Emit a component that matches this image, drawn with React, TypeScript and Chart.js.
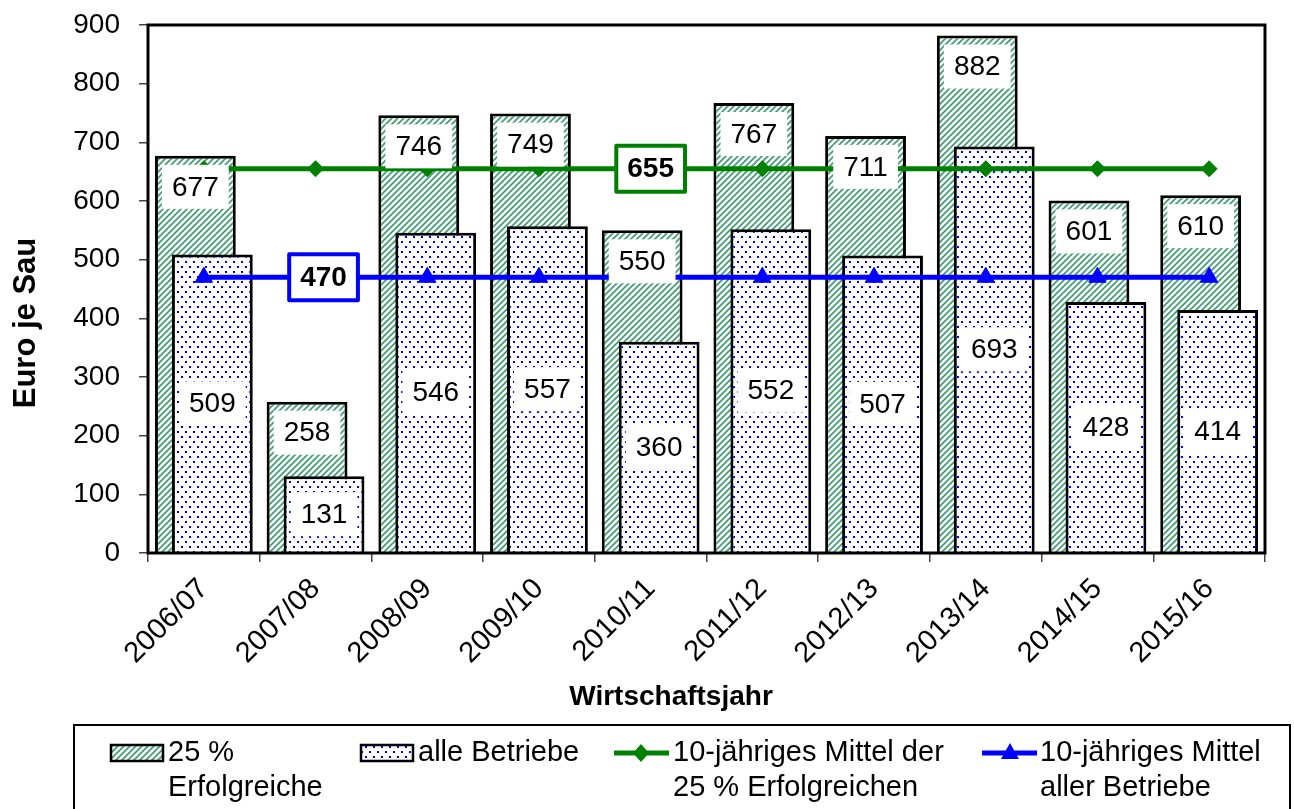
import React, { useEffect, useRef } from 'react';
import { Chart, registerables } from 'chart.js';

Chart.register(...registerables);

const categories = ['2006/07', '2007/08', '2008/09', '2009/10', '2010/11', '2011/12', '2012/13', '2013/14', '2014/15', '2015/16'];
const top25 = [677, 258, 746, 749, 550, 767, 711, 882, 601, 610];
const allFarms = [509, 131, 546, 557, 360, 552, 507, 693, 428, 414];
const avgTop25 = [655, 655, 655, 655, 655, 655, 655, 655, 655, 655];
const avgAll = [470, 470, 470, 470, 470, 470, 470, 470, 470, 470];
const yTicks = [0, 100, 200, 300, 400, 500, 600, 700, 800, 900];
const avgTop25LabelIndex = 4;
const avgAllLabelIndex = 1;
const seriesNames = [
  ['25 %', 'Erfolgreiche'],
  ['alle Betriebe'],
  ['10-jähriges Mittel der', '25 % Erfolgreichen'],
  ['10-jähriges Mittel', 'aller Betriebe'],
];
const xTitle = 'Wirtschaftsjahr';
const yTitle = 'Euro je Sau';

const FONT = '"Liberation Sans", Arial, Helvetica, sans-serif';
const GREEN = '#008000';
const BLUE = '#0000ff';
const HATCH = '#3a9c6c';

function makeHatch(): CanvasPattern | string {
  const c = document.createElement('canvas');
  c.width = 6;
  c.height = 6;
  const g = c.getContext('2d');
  if (!g) return '#cfe8d8';
  g.fillStyle = '#ffffff';
  g.fillRect(0, 0, 6, 6);
  g.strokeStyle = HATCH;
  g.lineWidth = 1.6;
  g.beginPath();
  g.moveTo(-1, 7);
  g.lineTo(7, -1);
  g.moveTo(5, 7);
  g.lineTo(7, 5);
  g.moveTo(-1, 1);
  g.lineTo(1, -1);
  g.stroke();
  return g.createPattern(c, 'repeat') || '#cfe8d8';
}

function makeDots(): CanvasPattern | string {
  const c = document.createElement('canvas');
  c.width = 8;
  c.height = 10;
  const g = c.getContext('2d');
  if (!g) return '#d8d8ff';
  g.fillStyle = '#ffffff';
  g.fillRect(0, 0, 8, 10);
  g.fillStyle = BLUE;
  g.fillRect(1, 1, 2, 2);
  g.fillRect(5, 6, 2, 2);
  return g.createPattern(c, 'repeat') || '#d8d8ff';
}

function labelBox(ctx: CanvasRenderingContext2D, text: string, cx: number, cy: number, bold: boolean, border?: string) {
  ctx.save();
  ctx.font = `${bold ? 'bold ' : ''}28px ${FONT}`;
  const tw = ctx.measureText(text).width;
  const w = tw + (border ? 22 : 20);
  const h = border ? 46 : 44;
  ctx.fillStyle = '#ffffff';
  ctx.fillRect(cx - w / 2, cy - h / 2, w, h);
  if (border) {
    ctx.strokeStyle = border;
    ctx.lineWidth = 4;
    ctx.lineJoin = 'round';
    ctx.strokeRect(cx - w / 2, cy - h / 2, w, h);
  }
  ctx.fillStyle = '#000000';
  ctx.textAlign = 'center';
  ctx.textBaseline = 'middle';
  ctx.fillText(text, cx, cy + 1);
  ctx.restore();
}

export default function App() {
  const ref = useRef<HTMLCanvasElement>(null);

  useEffect(() => {
    document.body.style.margin = '0';
    document.body.style.overflow = 'hidden';
    const canvas = ref.current;
    if (!canvas) return;
    const hatch = makeHatch();
    const dots = makeDots();

    const drawPlugin = {
      id: 'customDraw',
      beforeDatasetsDraw(chart: any) {
        const ctx: CanvasRenderingContext2D = chart.ctx;
        const area = chart.chartArea;
        chart.getDatasetMeta(0).controller.draw();
        chart.getDatasetMeta(1).controller.draw();
        ctx.save();
        ctx.strokeStyle = '#000';
        ctx.lineWidth = 3;
        ctx.strokeRect(area.left, area.top, area.right - area.left, area.bottom - area.top);
        ctx.restore();
        chart.getDatasetMeta(2).controller.draw();
        chart.getDatasetMeta(3).controller.draw();
        const m0 = chart.getDatasetMeta(0);
        const m1 = chart.getDatasetMeta(1);
        m0.data.forEach((el: any, i: number) => {
          labelBox(ctx, String(top25[i]), el.x, el.y + 31, false);
        });
        m1.data.forEach((el: any, i: number) => {
          labelBox(ctx, String(allFarms[i]), el.x, (el.y + el.base) / 2, false);
        });
        const p2 = chart.getDatasetMeta(2).data[avgTop25LabelIndex];
        labelBox(ctx, String(avgTop25[avgTop25LabelIndex]), p2.x, p2.y, true, GREEN);
        const p3 = chart.getDatasetMeta(3).data[avgAllLabelIndex];
        labelBox(ctx, String(avgAll[avgAllLabelIndex]), p3.x + 8, p3.y, true, BLUE);
        return false;
      },
      afterDraw(chart: any) {
        const ctx: CanvasRenderingContext2D = chart.ctx;
        ctx.save();
        ctx.fillStyle = '#000';
        ctx.textAlign = 'center';
        ctx.textBaseline = 'middle';
        ctx.font = `bold 28px ${FONT}`;
        ctx.fillText(xTitle, 671, 697);
        ctx.save();
        ctx.translate(26, 323);
        ctx.rotate(-Math.PI / 2);
        ctx.font = `bold 31px ${FONT}`;
        ctx.fillText(yTitle, 0, 0);
        ctx.restore();

        ctx.strokeStyle = '#000';
        ctx.lineWidth = 2;
        ctx.strokeRect(74, 725, 1216, 100);

        const ly = 753;
        const lh = 35;
        ctx.font = `29px ${FONT}`;
        ctx.textAlign = 'left';
        ctx.textBaseline = 'middle';

        ctx.fillStyle = hatch as any;
        ctx.fillRect(111, 745, 52, 16);
        ctx.lineWidth = 2.5;
        ctx.strokeRect(111, 745, 52, 16);
        ctx.fillStyle = dots as any;
        ctx.fillRect(361, 745, 52, 16);
        ctx.strokeRect(361, 745, 52, 16);

        ctx.strokeStyle = GREEN;
        ctx.lineWidth = 5;
        ctx.beginPath();
        ctx.moveTo(614, ly);
        ctx.lineTo(669, ly);
        ctx.stroke();
        ctx.fillStyle = GREEN;
        ctx.beginPath();
        ctx.moveTo(641, ly - 9);
        ctx.lineTo(649, ly);
        ctx.lineTo(641, ly + 9);
        ctx.lineTo(633, ly);
        ctx.closePath();
        ctx.fill();

        ctx.strokeStyle = BLUE;
        ctx.beginPath();
        ctx.moveTo(982, ly);
        ctx.lineTo(1037, ly);
        ctx.stroke();
        ctx.fillStyle = BLUE;
        ctx.beginPath();
        ctx.moveTo(1010, ly - 10);
        ctx.lineTo(1019, ly + 6);
        ctx.lineTo(1001, ly + 6);
        ctx.closePath();
        ctx.fill();

        ctx.fillStyle = '#000';
        const textX = [168, 418, 673, 1040];
        seriesNames.forEach((lines, i) => {
          lines.forEach((t, j) => ctx.fillText(t, textX[i], ly + j * lh));
        });
        ctx.restore();
      },
    };

    const chart = new Chart(canvas, {
      type: 'bar',
      data: {
        labels: categories,
        datasets: [
          {
            type: 'bar',
            label: seriesNames[0].join(' '),
            data: top25,
            backgroundColor: hatch as any,
            borderColor: '#000',
            borderWidth: 3,
            borderSkipped: 'bottom',
            categoryPercentage: 0.304,
            barPercentage: 4.76,
          },
          {
            type: 'bar',
            label: seriesNames[1].join(' '),
            data: allFarms,
            backgroundColor: dots as any,
            borderColor: '#000',
            borderWidth: 3,
            borderSkipped: 'bottom',
            categoryPercentage: 0.304,
            barPercentage: 4.76,
          },
          {
            type: 'line',
            label: seriesNames[2].join(' '),
            data: avgTop25,
            borderColor: GREEN,
            borderWidth: 5,
            pointStyle: 'rectRot',
            pointRadius: 8,
            pointBackgroundColor: GREEN,
            pointBorderColor: GREEN,
            pointBorderWidth: 1,
            fill: false,
            tension: 0,
          },
          {
            type: 'line',
            label: seriesNames[3].join(' '),
            data: avgAll,
            borderColor: BLUE,
            borderWidth: 5,
            pointStyle: 'triangle',
            pointRadius: 10,
            pointBackgroundColor: BLUE,
            pointBorderColor: BLUE,
            pointBorderWidth: 1,
            fill: false,
            tension: 0,
          },
        ],
      } as any,
      options: {
        responsive: false,
        animation: false,
        devicePixelRatio: 1,
        layout: { padding: { top: 25, right: 29, bottom: 0, left: 0 } },
        plugins: {
          legend: { display: false },
          tooltip: { enabled: false },
        },
        scales: {
          x: {
            type: 'category',
            offset: true,
            grid: {
              offset: true,
              drawOnChartArea: false,
              drawTicks: true,
              tickLength: 9,
              color: '#444',
              lineWidth: 1.5,
            },
            border: { display: false },
            ticks: {
              font: { family: FONT, size: 29 },
              color: '#000',
              maxRotation: 45,
              minRotation: 45,
              padding: 10,
              autoSkip: false,
            },
            afterFit: (s: any) => {
              s.height = 256;
            },
          },
          y: {
            min: 0,
            max: 900,
            grid: {
              drawOnChartArea: false,
              drawTicks: true,
              tickLength: 9,
              color: '#444',
              lineWidth: 1.5,
            },
            border: { display: false },
            ticks: {
              font: { family: FONT, size: 28 },
              color: '#000',
              padding: 19,
            },
            afterBuildTicks: (s: any) => {
              s.ticks = yTicks.map((v) => ({ value: v }));
            },
            afterFit: (s: any) => {
              s.width = 148;
              s.paddingTop = 0;
              s.paddingBottom = 0;
            },
          },
        },
      } as any,
      plugins: [drawPlugin],
    });

    return () => chart.destroy();
  }, []);

  return <canvas ref={ref} width={1294} height={809} style={{ display: 'block' }} />;
}
